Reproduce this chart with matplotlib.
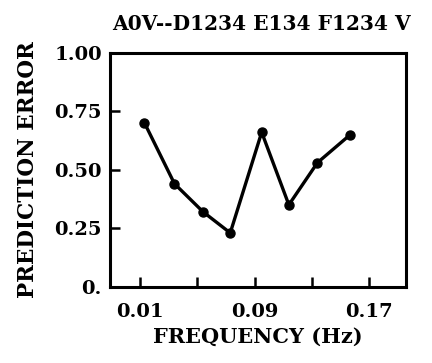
import matplotlib
matplotlib.use("Agg")
import matplotlib.pyplot as plt

freq = [0.013, 0.034, 0.054, 0.073, 0.095, 0.114, 0.134, 0.157]
error = [0.70, 0.44, 0.32, 0.23, 0.66, 0.35, 0.53, 0.65]
xticks = [0.01, 0.05, 0.09, 0.13, 0.17]
xtick_labels = ["0.01", "", "0.09", "", "0.17"]
yticks = [0.0, 0.25, 0.50, 0.75, 1.00]
ytick_labels = ["0.", "0.25", "0.50", "0.75", "1.00"]

font = "DejaVu Serif"
fig = plt.figure(figsize=(4.32, 3.63), dpi=100)
ax = fig.add_axes([0.255, 0.21, 0.685, 0.645])
ax.plot(freq, error, color="black", lw=2.4, marker="o", ms=6.5)
ax.set_xlim(-0.011, 0.196)
ax.set_ylim(0, 1.0)
ax.set_xticks(xticks)
ax.set_xticklabels(xtick_labels, fontsize=14, fontweight="bold", family=font)
ax.set_yticks(yticks)
ax.set_yticklabels(ytick_labels, fontsize=14, fontweight="bold", family=font)
ax.tick_params(axis="x", direction="in", length=7, width=1.8, pad=12)
ax.tick_params(axis="y", direction="in", length=7, width=1.8, pad=6)
for s in ax.spines.values():
    s.set_linewidth(2.2)
ax.set_xlabel("FREQUENCY (Hz)", fontsize=15, fontweight="bold", family=font, labelpad=4)
ax.set_ylabel("PREDICTION ERROR", fontsize=15.5, fontweight="bold", family=font, labelpad=11)
fig.text(0.605, 0.935, "A0V--D1234 E134 F1234 V", ha="center", va="center",
         fontsize=14.5, fontweight="bold", family=font)
fig.savefig("out.png", dpi=100)
